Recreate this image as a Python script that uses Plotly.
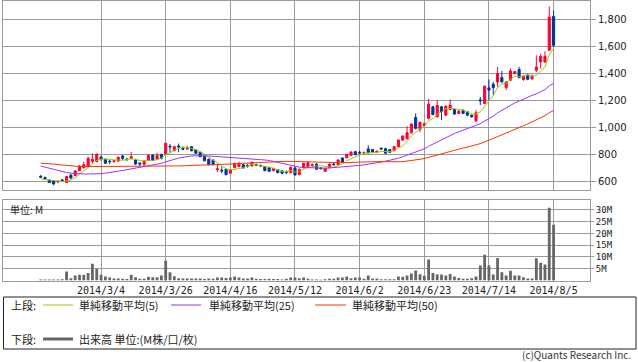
import plotly.graph_objects as go

# ---------------- data ----------------
dates = [
    "2014/2/12", "2014/2/13", "2014/2/14", "2014/2/17", "2014/2/18", "2014/2/19", "2014/2/20", "2014/2/21",
    "2014/2/24", "2014/2/25", "2014/2/26", "2014/2/27", "2014/2/28", "2014/3/3", "2014/3/4", "2014/3/5",
    "2014/3/6", "2014/3/7", "2014/3/10", "2014/3/11", "2014/3/12", "2014/3/13", "2014/3/14", "2014/3/17",
    "2014/3/18", "2014/3/19", "2014/3/20", "2014/3/24", "2014/3/25", "2014/3/26", "2014/3/27", "2014/3/28",
    "2014/3/31", "2014/4/1", "2014/4/2", "2014/4/3", "2014/4/4", "2014/4/7", "2014/4/8", "2014/4/9",
    "2014/4/10", "2014/4/11", "2014/4/14", "2014/4/15", "2014/4/16", "2014/4/17", "2014/4/18", "2014/4/21",
    "2014/4/22", "2014/4/23", "2014/4/24", "2014/4/25", "2014/4/28", "2014/4/30", "2014/5/1", "2014/5/2",
    "2014/5/7", "2014/5/8", "2014/5/9", "2014/5/12", "2014/5/13", "2014/5/14", "2014/5/15", "2014/5/16",
    "2014/5/19", "2014/5/20", "2014/5/21", "2014/5/22", "2014/5/23", "2014/5/26", "2014/5/27", "2014/5/28",
    "2014/5/29", "2014/5/30", "2014/6/2", "2014/6/3", "2014/6/4", "2014/6/5", "2014/6/6", "2014/6/9",
    "2014/6/10", "2014/6/11", "2014/6/12", "2014/6/13", "2014/6/16", "2014/6/17", "2014/6/18", "2014/6/19",
    "2014/6/20", "2014/6/23", "2014/6/24", "2014/6/25", "2014/6/26", "2014/6/27", "2014/6/30", "2014/7/1",
    "2014/7/2", "2014/7/3", "2014/7/4", "2014/7/7", "2014/7/8", "2014/7/9", "2014/7/10", "2014/7/11",
    "2014/7/14", "2014/7/15", "2014/7/16", "2014/7/17", "2014/7/18", "2014/7/22", "2014/7/23", "2014/7/24",
    "2014/7/25", "2014/7/28", "2014/7/29", "2014/7/30", "2014/7/31", "2014/8/1", "2014/8/4", "2014/8/5",
]

open_ = [
    638, 628, 610, 602, 595, 610, 590, 645, 642, 679,
    701, 709, 748, 746, 780, 763, 750, 746, 750, 788,
    765, 768, 758, 735, 726, 758, 795, 763, 800, 803,
    860, 827, 862, 845, 840, 857, 832, 815, 788, 763,
    758, 686, 682, 689, 660, 701, 709, 723, 718, 714,
    723, 718, 709, 701, 679, 686, 677, 670, 664, 699,
    649, 701, 709, 718, 728, 699, 674, 701, 728, 723,
    773, 775, 793, 820, 815, 808, 840, 835, 817, 845,
    842, 835, 827, 857, 906, 916, 960, 1074, 985, 1015,
    1067, 1153, 1079, 1153, 1091, 1133, 1133, 1104, 1128, 1116,
    1091, 1049, 1205, 1178, 1294, 1321, 1338, 1370, 1296, 1351,
    1400, 1430, 1356, 1388, 1360, 1425, 1486, 1486, 1573, 1825,
]

high = [
    645, 635, 612, 605, 608, 618, 640, 655, 682, 720,
    745, 783, 807, 808, 790, 768, 760, 758, 785, 795,
    772, 817, 762, 740, 755, 800, 800, 812, 805, 885,
    878, 862, 880, 852, 862, 862, 838, 820, 792, 768,
    762, 723, 709, 694, 690, 738, 746, 728, 730, 746,
    730, 725, 714, 706, 699, 691, 682, 679, 709, 704,
    694, 738, 743, 733, 733, 704, 701, 733, 740, 763,
    778, 805, 822, 827, 827, 822, 867, 840, 830, 852,
    850, 840, 862, 911, 941, 1010, 1030, 1104, 1045, 1035,
    1212, 1160, 1200, 1160, 1163, 1207, 1138, 1128, 1133, 1121,
    1096, 1128, 1227, 1311, 1356, 1338, 1449, 1420, 1343, 1437,
    1420, 1449, 1385, 1398, 1395, 1536, 1548, 1565, 1899, 1869,
]

low = [
    625, 610, 588, 570, 585, 598, 588, 615, 638, 675,
    695, 705, 733, 740, 752, 728, 728, 738, 745, 758,
    755, 762, 722, 712, 715, 752, 752, 758, 762, 800,
    812, 822, 815, 830, 835, 822, 803, 778, 748, 718,
    718, 669, 659, 645, 655, 696, 704, 694, 701, 709,
    712, 706, 674, 669, 672, 659, 652, 652, 659, 642,
    645, 696, 704, 706, 684, 686, 669, 696, 718, 718,
    736, 770, 788, 793, 800, 800, 808, 812, 810, 832,
    803, 810, 822, 852, 900, 911, 955, 985, 965, 1005,
    1060, 1090, 1074, 1054, 1086, 1128, 1094, 1099, 1099, 1084,
    1072, 1040, 1165, 1173, 1202, 1240, 1301, 1333, 1277, 1346,
    1395, 1365, 1346, 1351, 1356, 1412, 1437, 1481, 1568, 1598,
]

close = [
    630, 615, 590, 580, 598, 606, 635, 625, 677, 714,
    723, 770, 763, 800, 765, 733, 746, 752, 778, 770,
    760, 782, 728, 728, 750, 792, 758, 792, 770, 882,
    855, 857, 855, 838, 846, 827, 808, 783, 753, 723,
    723, 692, 677, 649, 684, 733, 733, 699, 714, 741,
    719, 714, 679, 674, 694, 664, 659, 667, 704, 647,
    689, 733, 738, 723, 689, 694, 696, 726, 723, 758,
    741, 800, 817, 798, 810, 813, 812, 817, 822, 840,
    808, 815, 857, 906, 936, 960, 1025, 993, 1037, 1027,
    1173, 1096, 1163, 1116, 1158, 1165, 1099, 1121, 1104, 1091,
    1079, 1109, 1198, 1306, 1277, 1296, 1400, 1338, 1338, 1420,
    1415, 1370, 1380, 1358, 1380, 1449, 1528, 1528, 1820, 1610,
]

ma5 = [
    617, 612, 607, 605, 603, 598, 602, 609, 628, 651,
    675, 702, 729, 754, 764, 766, 761, 759, 755, 756,
    761, 768, 764, 754, 750, 756, 751, 764, 772, 799,
    811, 831, 844, 857, 850, 845, 835, 820, 803, 779,
    758, 735, 714, 693, 685, 687, 695, 700, 713, 724,
    721, 717, 713, 705, 696, 685, 674, 672, 678, 668,
    673, 688, 702, 706, 714, 715, 708, 706, 706, 719,
    729, 750, 768, 783, 793, 808, 810, 810, 815, 821,
    820, 820, 828, 845, 864, 895, 937, 964, 990, 1008,
    1051, 1065, 1099, 1115, 1141, 1140, 1140, 1132, 1129, 1116,
    1099, 1101, 1116, 1157, 1194, 1237, 1295, 1323, 1330, 1358,
    1382, 1376, 1385, 1389, 1381, 1387, 1419, 1449, 1541, 1587,
]

ma25 = [
    713, 705, 696, 687, 677, 670, 665, 660, 657, 655,
    654, 654, 654, 654, 656, 660, 664, 669, 674, 680,
    686, 692, 697, 701, 705, 711, 717, 725, 733, 744,
    754, 763, 772, 778, 784, 788, 789, 790, 788, 787,
    786, 784, 781, 776, 773, 771, 769, 768, 768, 767,
    764, 763, 758, 754, 747, 739, 731, 724, 718, 710,
    705, 702, 700, 699, 698, 696, 697, 699, 701, 704,
    705, 707, 712, 716, 718, 722, 726, 731, 737, 743,
    749, 755, 763, 771, 782, 793, 805, 815, 828, 841,
    860, 876, 894, 910, 926, 943, 955, 967, 979, 990,
    1001, 1013, 1028, 1047, 1065, 1084, 1108, 1127, 1144, 1164,
    1182, 1196, 1211, 1224, 1238, 1249, 1266, 1281, 1309, 1327,
]

ma50 = [
    734, 733, 731, 728, 724, 720, 716, 712, 710, 709,
    709, 709, 709, 709, 709, 709, 709, 710, 710, 711,
    712, 713, 713, 713, 713, 713, 713, 713, 713, 713,
    713, 713, 714, 715, 716, 717, 718, 718, 718, 718,
    719, 720, 722, 725, 728, 730, 732, 734, 735, 736,
    738, 740, 742, 744, 745, 747, 747, 748, 748, 747,
    746, 746, 745, 744, 742, 741, 740, 740, 739, 738,
    738, 738, 740, 742, 743, 743, 744, 745, 746, 745,
    744, 743, 743, 745, 746, 749, 753, 758, 763, 769,
    778, 787, 796, 806, 815, 824, 831, 839, 847, 854,
    861, 869, 880, 892, 904, 917, 931, 945, 958, 973,
    988, 1000, 1013, 1026, 1040, 1055, 1071, 1087, 1109, 1126,
]

volume_m = [
    0.4, 0.4, 0.4, 0.4, 0.4, 0.5, 3.8, 1.0, 2.1, 2.4,
    2.4, 3.2, 7.1, 4.9, 2.4, 1.7, 1.3, 0.9, 0.9, 0.7,
    0.6, 2.4, 1.4, 0.7, 0.7, 1.6, 1.4, 1.4, 2.1, 8.5,
    3.5, 1.8, 1.0, 0.9, 0.9, 0.9, 0.9, 0.9, 0.6, 0.9,
    0.7, 1.3, 1.3, 1.1, 1.3, 1.7, 1.3, 0.9, 0.9, 1.3,
    0.7, 0.6, 0.6, 0.7, 0.6, 0.6, 0.4, 0.7, 1.3, 1.3,
    1.0, 1.3, 0.7, 0.4, 0.4, 0.3, 0.5, 0.7, 0.7, 1.3,
    1.3, 1.7, 1.0, 1.3, 1.3, 0.7, 2.1, 0.85, 0.85, 0.56,
    0.56, 0.56, 0.56, 1.7, 1.55, 2.1, 3.0, 4.2, 2.7, 2.0,
    8.9, 3.2, 2.5, 2.5, 2.1, 2.8, 1.7, 1.1, 0.7, 0.7,
    1.0, 1.7, 6.4, 10.9, 6.4, 2.5, 9.6, 3.5, 2.1, 4.1,
    2.1, 2.1, 1.4, 0.85, 0.85, 9.5, 7.5, 6.8, 30.9, 23.7,
]

tick_dates = ["2014/3/4", "2014/3/26", "2014/4/16", "2014/5/12",
              "2014/6/2", "2014/6/23", "2014/7/14", "2014/8/5"]
price_ticks = [600, 800, 1000, 1200, 1400, 1600, 1800]
volume_ticks = [5, 10, 15, 20, 25, 30]
volume_tick_labels = ["5M", "10M", "15M", "20M", "25M", "30M"]

ma_names = ["単純移動平均(5)", "単純移動平均(25)", "単純移動平均(50)"]
volume_name = "出来高 単位:(M株/口/枚)"

# ---------------- styling ----------------
W, H = 638, 362
UP, DOWN = "#ff0033", "#003399"
MA_COLORS = ["#99cc00", "#9933ff", "#ff3300"]
VOL_COLOR = "#666666"
GRID = "#9a9a9a"
JP_FONT = "Noto Sans CJK JP"


def px(x):
    return x / W


def py(y):
    return 1 - y / H


X_L, X_R = 3, 590
x_range = [-8.75, 127.45]

fig = go.Figure()

fig.add_trace(go.Candlestick(
    x=dates, open=open_, high=high, low=low, close=close,
    increasing=dict(line=dict(color=UP, width=1), fillcolor=UP),
    decreasing=dict(line=dict(color=DOWN, width=1), fillcolor=DOWN),
    whiskerwidth=0, showlegend=False, hoverinfo="skip",
    xaxis="x", yaxis="y",
))
for name, vals, col in zip(ma_names, [ma5, ma25, ma50], MA_COLORS):
    fig.add_trace(go.Scatter(
        x=dates, y=vals, mode="lines", name=name,
        line=dict(color=col, width=1), showlegend=False,
        xaxis="x", yaxis="y",
    ))

fig.add_trace(go.Bar(
    x=dates, y=volume_m, name=volume_name,
    marker=dict(color=VOL_COLOR, line=dict(width=0)), width=0.65,
    showlegend=False, xaxis="x2", yaxis="y2",
))

axis_common = dict(
    showgrid=True, gridcolor=GRID, gridwidth=1,
    showline=True, mirror=True, linecolor=GRID, linewidth=1,
    zeroline=False, fixedrange=True,
)

fig.update_layout(
    width=W, height=H,
    margin=dict(l=0, r=0, t=0, b=0),
    paper_bgcolor="white", plot_bgcolor="white",
    font=dict(family=JP_FONT, size=11, color="#222"),
    bargap=0.35,
    xaxis=dict(
        domain=[px(X_L), px(X_R)], anchor="y", type="category",
        range=x_range, tickvals=tick_dates, ticktext=tick_dates,
        showticklabels=False, ticks="", rangeslider=dict(visible=False),
        **axis_common,
    ),
    yaxis=dict(
        domain=[py(190), py(0.5)], anchor="x", side="right",
        range=[535, 1943], tickvals=price_ticks, tickformat=",d",
        ticks="outside", ticklen=5, tickcolor=GRID,
        tickfont=dict(family="DejaVu Sans", size=10, color="#222"),
        **axis_common,
    ),
    xaxis2=dict(
        domain=[px(X_L), px(X_R)], anchor="y2", type="category",
        range=x_range, tickvals=tick_dates, ticktext=tick_dates,
        showticklabels=True, ticks="",
        tickfont=dict(family="DejaVu Sans Mono", size=10, color="#222"),
        **axis_common,
    ),
    yaxis2=dict(
        domain=[py(280.5), py(200)], anchor="x2", side="right",
        range=[0, 34.2], tickvals=volume_ticks, ticktext=volume_tick_labels,
        ticks="outside", ticklen=3, tickcolor=GRID,
        tickfont=dict(family="DejaVu Sans Mono", size=9, color="#222"),
        **axis_common,
    ),
)

shapes = []
annotations = []

# unit label in the volume panel
annotations.append(dict(
    x=px(8), y=py(209.5), xref="paper", yref="paper", text="単位: M",
    showarrow=False, xanchor="left", yanchor="middle",
    font=dict(family=JP_FONT, size=10, color="#222"),
))

# legend box
shapes.append(dict(type="rect", xref="paper", yref="paper",
                   x0=px(3.5), x1=px(636), y0=py(297), y1=py(349),
                   line=dict(color="#222", width=1), fillcolor="rgba(0,0,0,0)"))

row1, row2 = 305, 339
annotations.append(dict(x=px(9), y=py(row1), xref="paper", yref="paper", text="上段:",
                        showarrow=False, xanchor="left", yanchor="middle"))
annotations.append(dict(x=px(9), y=py(row2), xref="paper", yref="paper", text="下段:",
                        showarrow=False, xanchor="left", yanchor="middle"))

item_x = [(43, 73, 77), (171, 201, 207), (315, 346, 350)]
for (lx0, lx1, tx), name, col in zip(item_x, ma_names, MA_COLORS):
    shapes.append(dict(type="line", xref="paper", yref="paper",
                       x0=px(lx0), x1=px(lx1), y0=py(row1), y1=py(row1),
                       line=dict(color=col, width=1)))
    annotations.append(dict(x=px(tx), y=py(row1), xref="paper", yref="paper", text=name,
                            showarrow=False, xanchor="left", yanchor="middle"))

shapes.append(dict(type="line", xref="paper", yref="paper",
                   x0=px(43), x1=px(73), y0=py(row2), y1=py(row2),
                   line=dict(color=VOL_COLOR, width=3)))
annotations.append(dict(x=px(77), y=py(row2), xref="paper", yref="paper", text=volume_name,
                        showarrow=False, xanchor="left", yanchor="middle"))

annotations.append(dict(x=px(633), y=py(354.5), xref="paper", yref="paper",
                        text="(c)Quants Research Inc.", showarrow=False,
                        xanchor="right", yanchor="middle",
                        font=dict(family=JP_FONT, size=10, color="#333")))

fig.update_layout(shapes=shapes, annotations=annotations)

fig.write_html(
    "out.html",
    config={"displayModeBar": False, "staticPlot": True},
    post_script="document.body.style.margin='0px';document.body.style.overflow='hidden';",
)
